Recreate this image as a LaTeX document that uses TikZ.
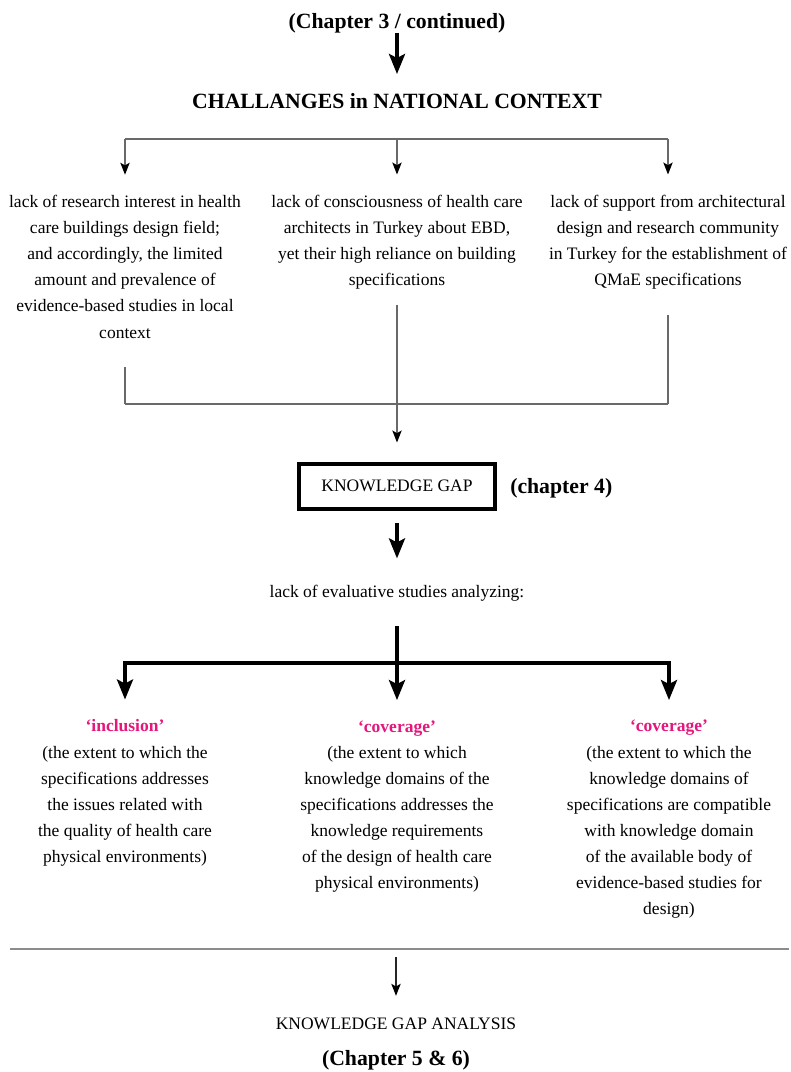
\documentclass[tikz,border=0pt]{standalone}
\usepackage{fontspec}
\setmainfont{Liberation Serif}
\usetikzlibrary{arrows.meta}
\definecolor{labelpink}{RGB}{229,23,125}
\definecolor{rulegray}{RGB}{105,105,105}
\definecolor{sepgray}{RGB}{140,140,140}
\begin{document}
\begin{tikzpicture}[x=0.75pt,y=-0.75pt,
  body/.style={font=\fontsize{13.125pt}{19.6pt}\selectfont, align=center, inner sep=0pt, anchor=base},
  headtext/.style={font=\fontsize{16.3pt}{20pt}\selectfont\bfseries, inner sep=0pt, anchor=base},
  thinline/.style={draw=rulegray, line width=1pt},
  thinarrow/.style={thinline, -{Stealth[length=9pt,width=7pt,inset=2pt,color=black]}},
  heavyline/.style={line width=3pt},
  heavyarrow/.style={line width=2.8pt, -{Stealth[length=15pt,width=12pt,inset=3pt]}},
  gapbox/.style={draw, line width=3pt, minimum width=147pt, minimum height=33.75pt,
    inner sep=0pt, font=\fontsize{13.125pt}{19.6pt}\selectfont}
]
\path[fill=white] (0,0) rectangle (791,1072);
\useasboundingbox (0,0) rectangle (791,1072);

% headings
\node[headtext] (ch3) at (397,28) {(Chapter 3 / continued)};
\node[headtext] (chal) at (397,108) {CHALLANGES in NATIONAL CONTEXT};
\draw[heavyarrow, shorten >=14pt] (ch3) -- (chal);

% three national challenges (anchored at the baseline of the last line)
\node[body] (r1) at (125,338) {lack of research interest in health\\care buildings design field;\\and accordingly, the limited\\amount and prevalence of\\evidence-based studies in local\\context};
\node[body] (r2) at (397,285.5) {lack of consciousness of health care\\architects in Turkey about EBD,\\yet their high reliance on building\\specifications};
\node[body] (r3) at (668,285.5) {lack of support from architectural\\design and research community\\in Turkey for the establishment of\\QMaE specifications};

% upper bracket
\coordinate (tL) at (125,139);
\coordinate (tM) at (397,139);
\coordinate (tR) at (668,139);
\draw[thinline] (tL) -- (tR);
\draw[thinarrow, shorten >=15pt] (tL) -- (r1);
\draw[thinarrow, shorten >=15pt] (tM) -- (r2);
\draw[thinarrow, shorten >=15pt] (tR) -- (r3);

% lower bracket
\coordinate (bL) at (125,404);
\coordinate (bR) at (668,404);
\draw[thinline, shorten <=21.75pt] (r1) -- (bL);
\draw[thinline, shorten <=18.75pt] (r3) -- (bR);
\draw[thinline] (bL) -- (bR);

% knowledge gap
\node[gapbox] (gap) at (397,486) {KNOWLEDGE GAP};
\node[headtext, anchor=base west] (ch4) at (510,493) {(chapter 4)};
\draw[thinarrow, shorten <=11.25pt, shorten >=14.25pt] (r2) -- (gap);

\node[body] (eval) at (397,597) {lack of evaluative studies analyzing:};
\draw[heavyarrow, shorten <=9.4pt, shorten >=19.5pt] (gap) -- (eval);

% three evaluation aspects (anchored at the baseline of the last line)
\node[body] (c1) at (125,862.6) {\textcolor{labelpink}{\bfseries ‘inclusion’}\\(the extent to which the\\specifications addresses\\the issues related with\\the quality of health care\\physical environments)};
\node[body] (c2) at (397,888.8) {\textcolor{labelpink}{\bfseries ‘coverage’}\\(the extent to which\\knowledge domains of the\\specifications addresses the\\knowledge requirements\\of the design of health care\\physical environments)};
\node[body] (c3) at (669,914.9) {\textcolor{labelpink}{\bfseries ‘coverage’}\\(the extent to which the\\knowledge domains of\\specifications are compatible\\with knowledge domain\\of the available body of\\evidence-based studies for\\design)};

\coordinate (fM) at (397,663);
\draw[heavyline, shorten <=18.75pt] (eval) -- (fM);
\draw[heavyarrow, shorten >=15pt] (fM) -| (c1);
\draw[heavyarrow, shorten >=15pt] (fM) -| (c3);
\draw[heavyarrow, shorten >=15pt] (fM) -- (c2);

% separator and final stage
\coordinate (sepL) at (10,949);
\coordinate (sepR) at (789,949);
\draw[draw=sepgray, line width=1.5pt] (sepL) -- (sepR);
\coordinate (s0) at (396,957);
\node[body] (kga) at (396,1029) {KNOWLEDGE GAP ANALYSIS};
\node[headtext] (ch56) at (396,1065) {(Chapter 5 \& 6)};
\draw[thinarrow, draw=black!85, shorten >=16pt] (s0) -- (kga);
\end{tikzpicture}
\end{document}
